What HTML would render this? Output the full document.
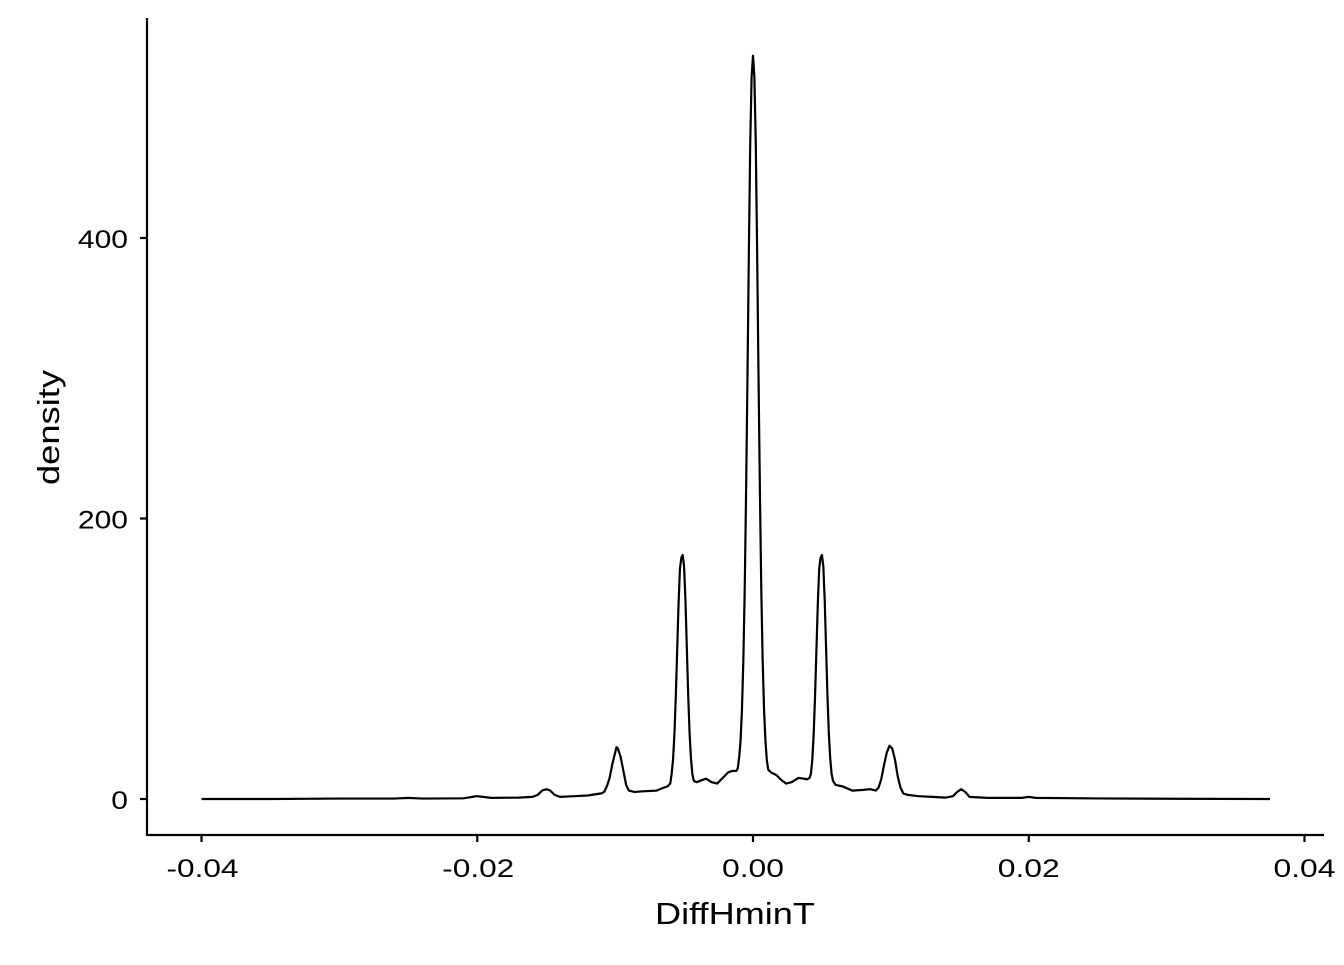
<!DOCTYPE html>
<html><head><meta charset="utf-8"><style>
html,body{margin:0;padding:0;background:#fff;}
svg text{font-family:"Liberation Sans",Arial,sans-serif;fill:#000;}
</style></head><body>
<svg id="chart" width="1344" height="960" viewBox="0 0 1344 960" xmlns="http://www.w3.org/2000/svg">
<rect width="1344" height="960" fill="#fff"/>
<g id="axes"></g>
<path id="curve" fill="none" stroke="#000" stroke-width="2.2" stroke-linejoin="round"/>
<text x="655" y="924" font-size="31" textLength="160" lengthAdjust="spacingAndGlyphs">DiffHminT</text>
<text transform="translate(59,485) rotate(-90)" font-size="31" textLength="115" lengthAdjust="spacingAndGlyphs">density</text>
</svg>
<script>
const xTicks = [-0.04, -0.02, 0.00, 0.02, 0.04];
const xTickLabels = ["-0.04", "-0.02", "0.00", "0.02", "0.04"];
const yTicks = [0, 200, 400];
const yTickLabels = ["0", "200", "400"];
// x in thousandths
const xs = [-40,-35,-30,-26,-25,-24,-21,-20.2,-20,-19.8,-19,-17,-16,-15.6,-15.3,-15,-14.7,-14.4,-14,-13,-12,-11,-10.8,-10.6,-10.4,-10.2,-10.0,-9.9,-9.8,-9.6,-9.4,-9.2,-9.0,-8.6,-8,-7,-6.5,-6.2,-6.0,-5.9,-5.8,-5.7,-5.6,-5.5,-5.4,-5.3,-5.2,-5.1,-5.0,-4.9,-4.8,-4.7,-4.6,-4.5,-4.4,-4.3,-4.1,-3.7,-3.4,-3.0,-2.6,-2.2,-1.8,-1.5,-1.2,-1.1,-1.0,-0.9,-0.8,-0.7,-0.6,-0.5,-0.4,-0.3,-0.2,-0.1,0,0.1,0.2,0.3,0.4,0.5,0.6,0.7,0.8,0.9,1.0,1.1,1.3,1.7,2.0,2.4,2.8,3.3,3.7,3.9,4.1,4.2,4.3,4.4,4.5,4.6,4.7,4.8,4.9,5.0,5.1,5.2,5.3,5.4,5.5,5.6,5.7,5.8,6.0,6.5,7.2,8.0,8.5,8.9,9.1,9.3,9.5,9.7,9.9,10.1,10.3,10.5,10.7,10.9,11.2,12,13,14,14.5,14.8,15.1,15.4,15.7,17,19.5,20,20.5,25,30,37.5];
const ys = [0,0,0.3,0.3,0.8,0.3,0.5,1.8,2,1.8,0.8,1,1.5,3,6,7,6,3,1.5,2,2.5,4,5,9,15,25,33,37,36,30,20,10,6,5,5.5,6,8,9,11,18,28,46,73,106,139,164,172,174,166,142,108,74,47,29,18,13,12,13.5,14.5,12,11,15,19,20,20,22,30,42,64,99,150,220,302,390,468,515,530,515,468,390,302,220,150,99,64,42,28,21,19,17,14,11,12,15,14.5,14,15,18,28,46,73,106,139,164,172,174,166,142,108,74,47,29,18,13,10,9,6,6.5,7,6,8,14,24,33,38,36,28,16,8,4,3,2,1.5,1,2,5,7,5,1.5,0.8,0.8,1.5,0.8,0.4,0.2,0];

// X takes thousandths
const X = v => 753 + v * 13.7875;
const Y = v => 799 - v * 1.4025;
const NS = "http://www.w3.org/2000/svg";
const axes = document.getElementById('axes');
function mk(tag, attrs){const e=document.createElementNS(NS,tag);for(const k in attrs)e.setAttribute(k,attrs[k]);axes.appendChild(e);return e;}

const yl = mk('line',{x1:147,y1:18,x2:147,y2:836,stroke:'#000','stroke-width':2.2});


const xl = mk('line',{x1:146,y1:835,x2:1324,y2:835,stroke:'#000','stroke-width':2.2});



xTicks.forEach((t,i)=>{
  const px = X(t*1000);
  const tk = mk('line',{x1:px,y1:835,x2:px,y2:842,stroke:'#000','stroke-width':2.2});
  
  
  const s = xTickLabels[i];
  const w = s.length === 5 ? 72 : 62;
  const lb = mk('text',{x:px - (s.length===5 ? 35 : 31),y:877,'font-size':25,textLength:w,lengthAdjust:'spacingAndGlyphs'});
  lb.textContent = s;
  
  
});
yTicks.forEach((t,i)=>{
  const py = Y(t);
  const tk = mk('line',{x1:140,y1:py,x2:147,y2:py,stroke:'#000','stroke-width':2.2});
  
  
  const s = yTickLabels[i];
  const w = s.length * 16.7;
  const lb = mk('text',{x:128 - w,y:py+10,'font-size':25,textLength:w,lengthAdjust:'spacingAndGlyphs'});
  lb.textContent = s;
  
  
});

let d = '';
xs.forEach((x,i)=>{ d += (i?'L':'M') + X(x).toFixed(2) + ',' + Y(ys[i]).toFixed(2); });
document.getElementById('curve').setAttribute('d', d);
</script>
</body></html>
